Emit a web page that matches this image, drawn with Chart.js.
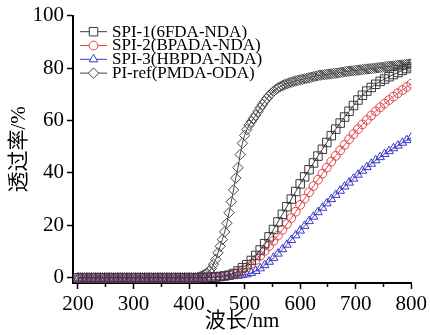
<!DOCTYPE html>
<html><head><meta charset="utf-8">
<script src="https://cdn.jsdelivr.net/npm/chart.js@4/dist/chart.umd.min.js"></script>
<style>html,body{margin:0;padding:0;background:#fff;}#wrap{width:430px;height:335px;}</style>
</head><body><div id="wrap"><canvas id="c" width="430" height="335"></canvas></div>
<script>
// ---------- DATA ----------
const seriesLabels = ['SPI-1(6FDA-NDA)', 'SPI-2(BPADA-NDA)', 'SPI-3(HBPDA-NDA)', 'PI-ref(PMDA-ODA)'];
const xTitle = '波长/nm';
const yTitle = '透过率/%';
const xTicks = [200, 250, 300, 350, 400, 450, 500, 550, 600, 650, 700, 750, 800];
const yTicks = [0, 10, 20, 30, 40, 50, 60, 70, 80, 90, 100];

// wavelengths for PI-ref (nm)
const wavelengthFine = [
200,204,208,212,216,220,224,228,232,236,
240,244,248,252,256,260,264,268,272,276,
280,284,288,292,296,300,304,308,312,316,
320,324,328,332,336,340,344,348,352,356,
360,364,368,372,376,380,384,388,392,396,
400,404,408,412,416,420,424,428,432,436,
440,444,448,452,456,460,464,468,472,476,
480,484,488,492,496,500,504,508,512,516,
520,524,528,532,536,540,544,548,552,556,
560,564,568,572,576,580,584,588,592,596,
600,604,608,612,616,620,624,628,632,636,
640,644,648,652,656,660,664,668,672,676,
680,684,688,692,696,700,704,708,712,716,
720,724,728,732,736,740,744,748,752,756,
760,764,768,772,776,780,784,788,792,796,
800];
const piRef = [
0,0,0,0,0,0,0,0,0,0,
0,0,0,0,0,0,0,0,0,0,
0,0,0,0,0,0,0,0,0,0,
0,0,0,0,0,0,0,0,0,0,
0,0,0,0,0,0,0,0,0,0,
0,0,0,0,0.1,0.4,0.8,1.2,1.7,2.4,
3.5,5.2,7.0,9.5,12.0,14.6,17.5,20.8,24.8,29.0,
33.5,38.0,42.0,47.0,51.3,54.3,56.5,58.2,59.5,60.8,
62.0,63.4,64.8,66.1,67.3,68.4,69.4,70.3,71.1,71.8,
72.4,72.9,73.3,73.7,74.0,74.3,74.6,74.9,75.1,75.3,
75.5,75.7,75.9,76.1,76.3,76.5,76.7,76.9,77.1,77.3,
77.4,77.5,77.6,77.7,77.8,77.9,78.0,78.1,78.3,78.4,
78.6,78.7,78.8,78.9,79.0,79.1,79.2,79.3,79.4,79.5,
79.6,79.7,79.8,79.9,80.0,80.1,80.2,80.3,80.4,80.5,
80.6,80.7,80.8,80.9,81.0,81.1,81.2,81.3,81.4,81.5,
81.6];

// wavelengths for SPI series (nm)
const wavelengthCoarse = [
200,208,216,224,232,240,248,256,264,272,
280,288,296,304,312,320,328,336,344,352,
360,368,376,384,392,400,408,416,424,432,
440,448,456,464,472,480,488,496,504,512,
520,528,536,544,552,560,568,576,584,592,
600,608,616,624,632,640,648,656,664,672,
680,688,696,704,712,720,728,736,744,752,
760,768,776,784,792,800];
const spi1 = [
0,0,0,0,0,0,0,0,0,0,
0,0,0,0,0,0,0,0,0,0,
0,0,0,0,0,0,0,0,0.1,0.1,
0.2,0.3,0.5,0.7,1.0,1.6,2.6,3.8,5.0,6.6,
8.5,10.6,13.0,15.6,18.4,21.3,24.2,27.1,30.0,32.9,
35.8,38.5,41.2,43.8,46.4,49.0,51.6,54.2,56.7,59.0,
61.3,63.5,65.7,67.8,69.6,71.2,72.6,73.8,74.9,75.8,
76.7,77.5,78.3,79.1,79.8,80.5];
const spi2 = [
0,0,0,0,0,0,0,0,0,0,
0,0,0,0,0,0,0,0,0,0,
0,0,0,0,0,0,0,0,0.1,0.1,
0.2,0.3,0.4,0.6,0.9,1.4,2.0,2.9,4.0,5.3,
6.8,8.4,10.2,12.1,14.1,16.1,18.3,20.5,22.8,25.2,
27.8,30.2,32.6,35.0,37.4,39.7,42.0,44.3,46.5,48.6,
50.7,52.8,54.8,56.7,58.5,60.2,61.9,63.5,65.0,66.4,
67.8,69.1,70.4,71.6,72.8,74.0];
const spi3 = [
0,0,0,0,0,0,0,0,0,0,
0,0,0,0,0,0,0,0,0,0,
0,0,0,0,0,0,0,0,0,0,
0.1,0.2,0.3,0.4,0.5,0.6,0.8,1.0,1.3,1.8,
2.6,3.6,4.8,6.1,7.6,9.2,10.9,12.6,14.4,16.2,
18.0,19.8,21.6,23.3,25.0,26.7,28.4,30.0,31.6,33.2,
34.8,36.3,37.8,39.3,40.8,42.2,43.5,44.8,46.0,47.2,
48.3,49.4,50.4,51.5,52.5,53.5];

// ---------- CHART ----------
const pts = (xs, ys) => xs.map((x, i) => ({x: x, y: ys[i]}));
const FONT = "'Liberation Serif', 'Times New Roman', 'Noto Sans CJK SC', serif";

const styles = [
  {color: '#3a3a3a', pointStyle: 'rect', radius: 6},
  {color: '#e0474c', pointStyle: 'circle', radius: 4.4},
  {color: '#3b3bc4', pointStyle: 'triangle', radius: 5},
  {color: '#474747', pointStyle: 'rectRot', radius: 5.2}
];
const seriesData = [pts(wavelengthCoarse, spi1), pts(wavelengthCoarse, spi2), pts(wavelengthCoarse, spi3), pts(wavelengthFine, piRef)];

const datasets = seriesLabels.map((lab, i) => ({
  label: lab,
  data: seriesData[i],
  borderColor: styles[i].color,
  borderWidth: 1,
  pointStyle: styles[i].pointStyle,
  pointRadius: styles[i].radius,
  pointBorderColor: styles[i].color,
  pointBackgroundColor: 'rgba(0,0,0,0)',
  pointBorderWidth: 1,
  fill: false,
  tension: 0
}));

const legendPlugin = {
  id: 'insideLegend',
  afterDatasetsDraw(chart) {
    const ctx = chart.ctx;
    ctx.save();
    chart.data.datasets.forEach((ds, i) => {
      const y = 31.7 + i * 13.8;
      ctx.strokeStyle = ds.borderColor;
      ctx.lineWidth = 1;
      ctx.beginPath(); ctx.moveTo(80, y); ctx.lineTo(107, y); ctx.stroke();
      ctx.fillStyle = '#fff';
      Chart.helpers.drawPoint(ctx, {pointStyle: ds.pointStyle, radius: ds.pointRadius, borderWidth: 1, rotation: 0}, 93.5, y);
      ctx.fillStyle = '#000';
      ctx.font = "17px " + FONT;
      ctx.textBaseline = 'middle';
      ctx.textAlign = 'left';
      ctx.fillText(ds.label, 112, y + 0.5);
    });
    ctx.restore();
  }
};

const tickFont = {family: FONT, size: 21};
const minorDash = (ctx) => (ctx.tick && (ctx.tick.value % (ctx.scale.axis === 'x' ? 100 : 20) !== 0)) ? [3, 40] : [];

new Chart(document.getElementById('c'), {
  type: 'line',
  data: {datasets: datasets},
  options: {
    responsive: false,
    animation: false,
    devicePixelRatio: 1,
    layout: {padding: {top: 15, right: 16, left: 0, bottom: 0}},
    plugins: {legend: {display: false}, tooltip: {enabled: false}},
    scales: {
      x: {
        type: 'linear', min: 191, max: 800,
        afterBuildTicks: s => { s.ticks = xTicks.map(v => ({value: v})); },
        afterFit: s => { s.height = 52; },
        ticks: {callback: v => (v % 100 === 0 ? String(v) : ''), font: tickFont, color: '#000', padding: 3, maxRotation: 0, autoSkip: false},
        grid: {drawOnChartArea: false, drawTicks: true, tickLength: 6, tickColor: '#000', tickWidth: 1.5, tickBorderDash: minorDash},
        border: {display: true, color: '#000', width: 2},
        title: {display: true, text: xTitle, color: '#000', font: {family: FONT, size: 21}, padding: {top: 0, bottom: 1}}
      },
      y: {
        type: 'linear', min: -2, max: 100,
        afterBuildTicks: s => { s.ticks = yTicks.map(v => ({value: v})); },
        afterFit: s => { s.width = 73; },
        ticks: {callback: v => (v % 20 === 0 ? String(v) : ''), font: tickFont, color: '#000', padding: 3},
        grid: {drawOnChartArea: false, drawTicks: true, tickLength: 6, tickColor: '#000', tickWidth: 1.5, tickBorderDash: minorDash},
        border: {display: true, color: '#000', width: 2},
        title: {display: true, text: yTitle, color: '#000', font: {family: FONT, size: 21}, padding: {top: 7, bottom: 0}}
      }
    }
  },
  plugins: [legendPlugin]
});
</script>
</body></html>
